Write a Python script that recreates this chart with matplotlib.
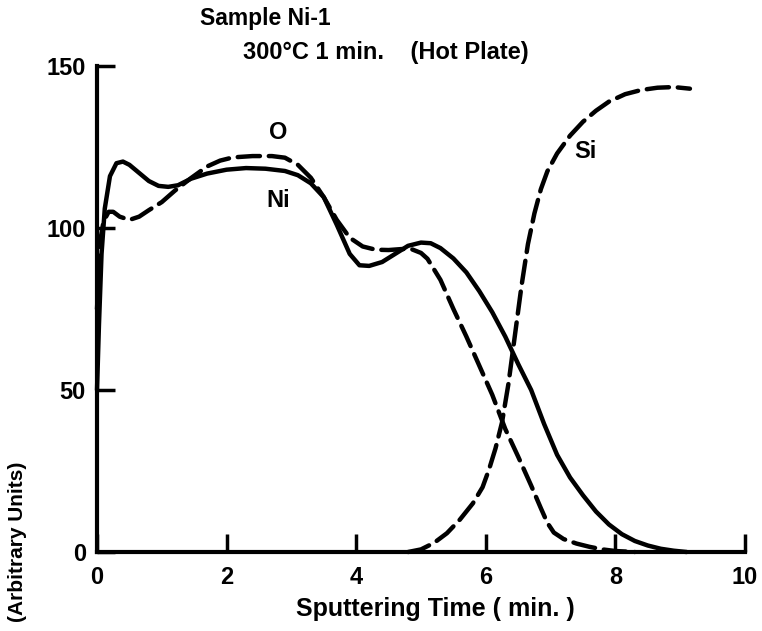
import matplotlib
matplotlib.use("Agg")
import matplotlib.pyplot as plt

plt.rcParams['font.family'] = ['Liberation Sans', 'DejaVu Sans']
plt.rcParams['font.weight'] = 'bold'

# Sputtering time (min) and intensity (arbitrary units)
ni_t = [0.0, 0.03, 0.07, 0.12, 0.2, 0.3, 0.4, 0.5, 0.65, 0.8, 0.95, 1.1, 1.25,
        1.45, 1.7, 2.0, 2.3, 2.6, 2.9, 3.1, 3.3, 3.5, 3.7, 3.9, 4.05, 4.2, 4.4,
        4.6, 4.8, 5.0, 5.15, 5.3, 5.5, 5.7, 5.9, 6.1, 6.3, 6.5, 6.7, 6.9, 7.1,
        7.3, 7.5, 7.7, 7.9, 8.1, 8.3, 8.5, 8.7, 8.9, 9.1]
ni_y = [50, 70, 92, 106, 116, 120, 120.5, 119.5, 117, 114.5, 113, 112.7, 113.2,
        115.2, 116.8, 118, 118.5, 118.3, 117.6, 116.3, 113.8, 109.5, 101, 92,
        88.5, 88.3, 89.5, 92, 94.5, 95.5, 95.3, 93.8, 90.6, 86.3, 80.5, 74,
        66.5, 58, 50, 39.5, 30, 23, 17.5, 12.5, 8.5, 5.5, 3.4, 2, 1, 0.4, 0]

o_t = [0.0, 0.05, 0.1, 0.18, 0.25, 0.35, 0.5, 0.65, 0.8, 1.0, 1.2, 1.45, 1.7,
       1.9, 2.1, 2.4, 2.7, 2.9, 3.1, 3.3, 3.5, 3.7, 3.9, 4.1, 4.3, 4.5, 4.7,
       4.85, 5.0, 5.1, 5.3, 5.5, 5.7, 5.9, 6.1, 6.3, 6.5, 6.7, 6.85, 6.95,
       7.05, 7.2, 7.4, 7.6, 7.8, 8.0, 8.3]
o_y = [75, 96, 102, 105, 105, 103.5, 102.5, 103.5, 105.5, 108, 111.5, 115.4,
       119, 120.8, 121.8, 122.2, 122.2, 121.7, 119.5, 115.5, 109.5, 102.5, 97,
       94.3, 93.3, 93.2, 93.5, 93.5, 92.3, 90.5, 84, 75, 66.5, 57.5, 48.5, 38,
       29.4, 20.5, 13.5, 9, 6, 4, 2.6, 1.6, 0.8, 0.3, 0]

si_t = [4.8, 5.0, 5.2, 5.4, 5.6, 5.8, 5.95, 6.05, 6.15, 6.25, 6.35, 6.45, 6.55,
        6.65, 6.75, 6.85, 6.95, 7.1, 7.3, 7.5, 7.7, 7.9, 8.15, 8.4, 8.65, 8.9,
        9.15]
si_y = [0, 0.8, 2.8, 5.8, 10, 15, 20, 25.5, 32, 40, 52, 67, 82, 95, 104.5, 112,
        117.5, 123, 128.5, 132.8, 136.2, 139, 141.3, 142.6, 143.3, 143.5, 143]

x_ticks = [0, 2, 4, 6, 8, 10]
y_ticks = [0, 50, 100, 150]

fig = plt.figure(figsize=(7.62, 6.31), dpi=100)
ax = fig.add_axes([0.1273, 0.1252, 0.8504, 0.7702])

ax.plot(ni_t, ni_y, 'k-', lw=3.2, solid_capstyle='round', clip_on=False)
ax.plot(o_t, o_y, 'k--', lw=3.2, dashes=(5, 2), dash_capstyle='round', clip_on=False)
ax.plot(si_t, si_y, 'k--', lw=3.2, dashes=(5, 2), dash_capstyle='round', clip_on=False)

ax.set_xlim(0, 10)
ax.set_ylim(0, 150)
for s in ['top', 'right']:
    ax.spines[s].set_visible(False)
for s in ['left', 'bottom']:
    ax.spines[s].set_linewidth(3)

ax.set_xticks(x_ticks)
ax.set_yticks(y_ticks)
ax.tick_params(axis='x', direction='in', length=13, width=2.5, labelsize=17, pad=10)
ax.tick_params(axis='y', direction='in', length=13, width=2.5, labelsize=17, pad=8)

ax.set_xlabel('Sputtering Time ( min. )', fontsize=18, fontweight='bold')
ax.xaxis.set_label_coords(0.522, -0.093)

ax.text(2.8, 129.5, 'O', fontsize=17, fontweight='bold', ha='center', va='center')
ax.text(2.8, 108.5, 'Ni', fontsize=17, fontweight='bold', ha='center', va='center')
ax.text(7.53, 123.5, 'Si', fontsize=17, fontweight='bold', ha='center', va='center')

fig.text(200 / 762, 1 - 18 / 631, 'Sample Ni-1', fontsize=16.5, fontweight='bold',
         ha='left', va='center')
fig.text(243 / 762, 1 - 53 / 631, '300°C 1 min.    (Hot Plate)', fontsize=17,
         fontweight='bold', ha='left', va='center')
fig.text(18 / 762, 1 - 462 / 631, '(Arbitrary Units)', fontsize=15,
         fontweight='bold', rotation=90, ha='center', va='top')

fig.savefig('out.png', dpi=100)
